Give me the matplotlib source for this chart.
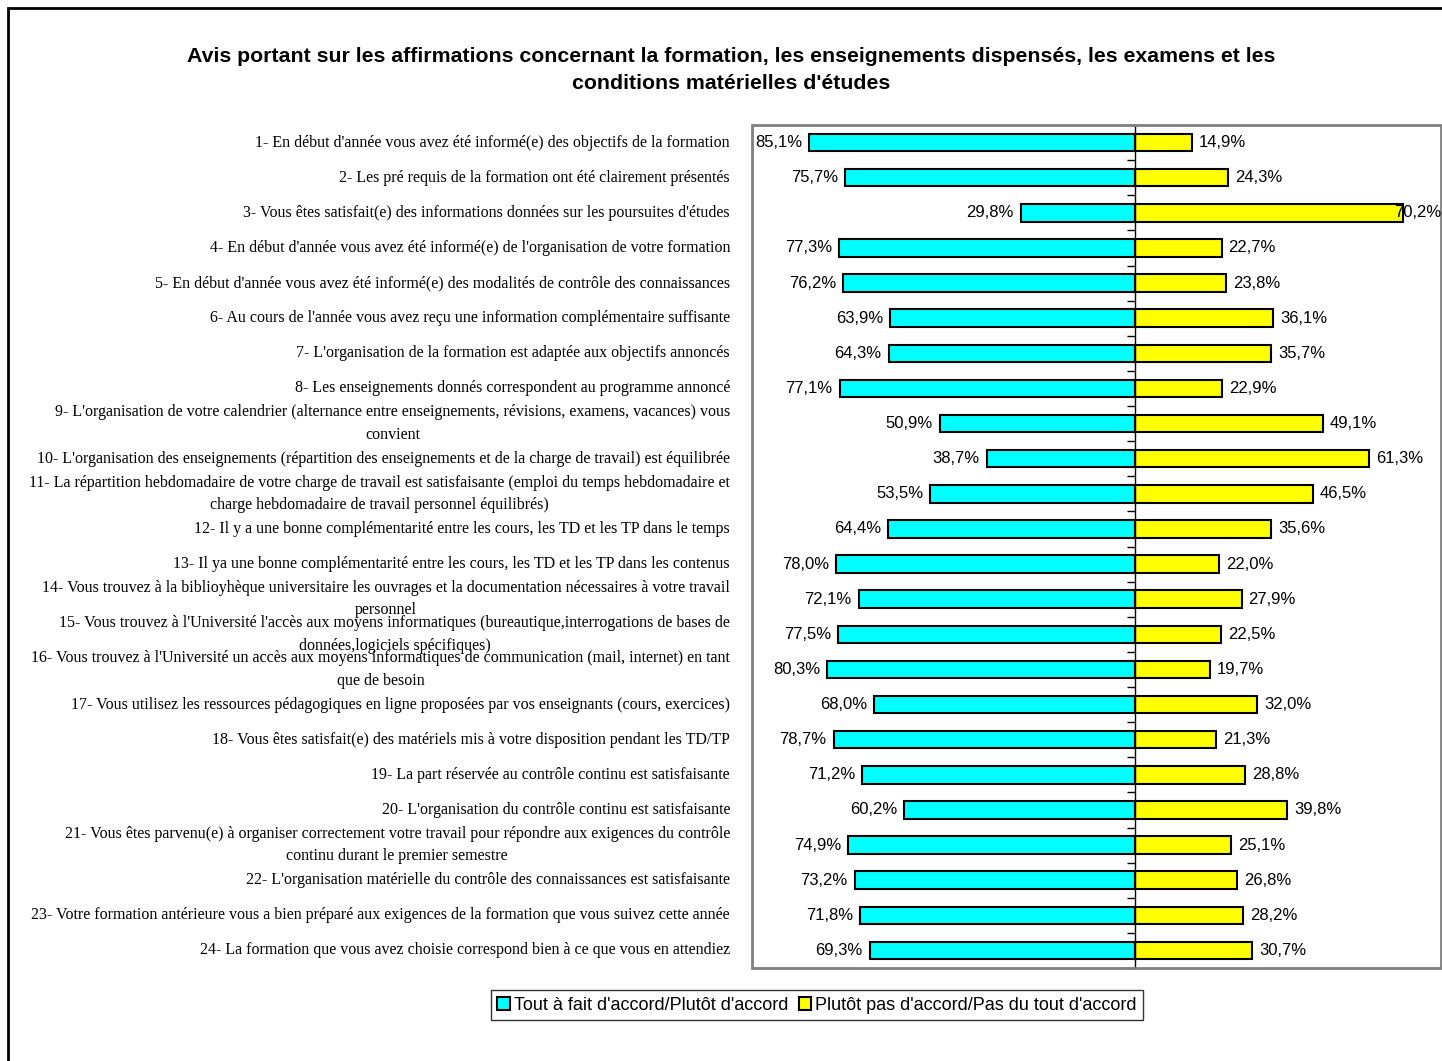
import matplotlib
matplotlib.use("Agg")
import matplotlib.pyplot as plt
from matplotlib.patches import Patch, Rectangle
from matplotlib.transforms import blended_transform_factory

# %% data
questions = [
    "1- En début d'année vous avez été informé(e) des objectifs de la formation",
    "2- Les pré requis de la formation ont été clairement présentés",
    "3- Vous êtes satisfait(e) des informations données sur les poursuites d'études",
    "4- En début d'année vous avez été informé(e) de l'organisation de votre formation",
    "5- En début d'année vous avez été informé(e) des modalités de contrôle des connaissances",
    "6- Au cours de l'année vous avez reçu une information complémentaire suffisante",
    "7- L'organisation de la formation est adaptée aux objectifs annoncés",
    "8- Les enseignements donnés correspondent au programme annoncé",
    "9- L'organisation de votre calendrier (alternance entre enseignements, révisions, examens, vacances) vous\nconvient",
    "10- L'organisation des enseignements (répartition des enseignements et de la charge de travail) est équilibrée",
    "11- La répartition hebdomadaire de votre charge de travail est satisfaisante (emploi du temps hebdomadaire et\ncharge hebdomadaire de travail personnel équilibrés)",
    "12- Il y a une bonne complémentarité entre les cours, les TD et les TP dans le temps",
    "13- Il ya une bonne complémentarité entre les cours, les TD et les TP dans les contenus",
    "14- Vous trouvez à la biblioyhèque universitaire les ouvrages et la documentation nécessaires à votre travail\npersonnel",
    "15- Vous trouvez à l'Université l'accès aux moyens informatiques (bureautique,interrogations de bases de\ndonnées,logiciels spécifiques)",
    "16- Vous trouvez à l'Université un accès aux moyens informatiques de communication (mail, internet) en tant\nque de besoin",
    "17- Vous utilisez les ressources pédagogiques en ligne proposées par vos enseignants (cours, exercices)",
    "18- Vous êtes satisfait(e) des matériels mis à votre disposition pendant les TD/TP",
    "19- La part réservée au contrôle continu est satisfaisante",
    "20- L'organisation du contrôle continu est satisfaisante",
    "21- Vous êtes parvenu(e) à organiser correctement votre travail pour répondre aux exigences du contrôle\ncontinu durant le premier semestre",
    "22- L'organisation matérielle du contrôle des connaissances est satisfaisante",
    "23- Votre formation antérieure vous a bien préparé aux exigences de la formation que vous suivez cette année",
    "24- La formation que vous avez choisie correspond bien à ce que vous en attendiez",
]
agree = [85.1, 75.7, 29.8, 77.3, 76.2, 63.9, 64.3, 77.1, 50.9, 38.7, 53.5, 64.4,
         78.0, 72.1, 77.5, 80.3, 68.0, 78.7, 71.2, 60.2, 74.9, 73.2, 71.8, 69.3]
disagree = [14.9, 24.3, 70.2, 22.7, 23.8, 36.1, 35.7, 22.9, 49.1, 61.3, 46.5, 35.6,
            22.0, 27.9, 22.5, 19.7, 32.0, 21.3, 28.8, 39.8, 25.1, 26.8, 28.2, 30.7]
series_names = ["Tout à fait d'accord/Plutôt d'accord",
                "Plutôt pas d'accord/Pas du tout d'accord"]

def pct(v):
    return f"{v:.1f}%".replace(".", ",")

# %% figure
fig = plt.figure(figsize=(14.42, 10.61), dpi=100)
ax = fig.add_axes([752 / 1442, 93 / 1061, 689 / 1442, 843 / 1061])

y = list(range(len(questions)))
ax.barh(y, [-a for a in agree], height=0.5, color="#00FFFF", edgecolor="black", linewidth=1.5)
ax.barh(y, disagree, height=0.5, color="#FFFF00", edgecolor="black", linewidth=1.5)

ax.set_xlim(-100, 80)
ax.set_ylim(len(questions) - 0.5, -0.5)

# center axis with ticks between categories
for s in ["top", "right", "bottom"]:
    ax.spines[s].set_visible(False)
ax.spines["left"].set_position(("data", 0))
ax.spines["left"].set_color("black")
ax.spines["left"].set_linewidth(1)
ax.set_xticks([])
ax.set_yticks([i - 0.5 for i in range(len(questions) + 1)])
ax.set_yticklabels([])
ax.tick_params(axis="y", direction="out", length=6, width=1, color="black")
ax.add_patch(Rectangle((0, 0), 1, 1, transform=ax.transAxes, fill=False,
                       edgecolor="#808080", linewidth=2, clip_on=False, zorder=5))

# value labels
for i, (a, d) in enumerate(zip(agree, disagree)):
    ax.annotate(pct(a), (-a, i), xytext=(-5, 0), textcoords="offset points",
                ha="right", va="center", fontsize=12, family="Liberation Sans")
    if d > 65:
        ax.text(80, i, pct(d), ha="right", va="center", fontsize=12,
                family="Liberation Sans", zorder=6)
    else:
        ax.annotate(pct(d), (d, i), xytext=(5, 0), textcoords="offset points",
                    ha="left", va="center", fontsize=12, family="Liberation Sans")

# question labels
tr = blended_transform_factory(ax.transAxes, ax.transData)
for i, q in enumerate(questions):
    ax.text(-22 / 689, i, q, transform=tr, ha="right", va="center",
            multialignment="center", fontsize=11.5, family="Liberation Serif",
            linespacing=1.55)

fig.text(731 / 1442, 1 - 70 / 1061,
         "Avis portant sur les affirmations concernant la formation, les enseignements dispensés, les examens et les\nconditions matérielles d'études",
         ha="center", va="center", fontsize=15.3, fontweight="bold",
         family="Liberation Sans", linespacing=1.55)

handles = [Patch(facecolor="#00FFFF", edgecolor="black", linewidth=1.5),
           Patch(facecolor="#FFFF00", edgecolor="black", linewidth=1.5)]
leg = fig.legend(handles, series_names, loc="center", bbox_to_anchor=(817 / 1442, 1 - 1005 / 1061),
                 ncol=2, frameon=True, fancybox=False, shadow=False,
                 prop={"family": "Liberation Sans", "size": 13},
                 handlelength=0.7, handleheight=0.7, handletextpad=0.2,
                 columnspacing=0.6, borderpad=0.35, borderaxespad=0)
leg.get_frame().set_edgecolor("black")
leg.get_frame().set_linewidth(1)

# outer chart border
fig.patches.append(Rectangle((8 / 1442, -0.1), 1.2, 1.1 - 8 / 1061, transform=fig.transFigure,
                             fill=False, edgecolor="black", linewidth=2))

fig.savefig("out.png", dpi=100)
